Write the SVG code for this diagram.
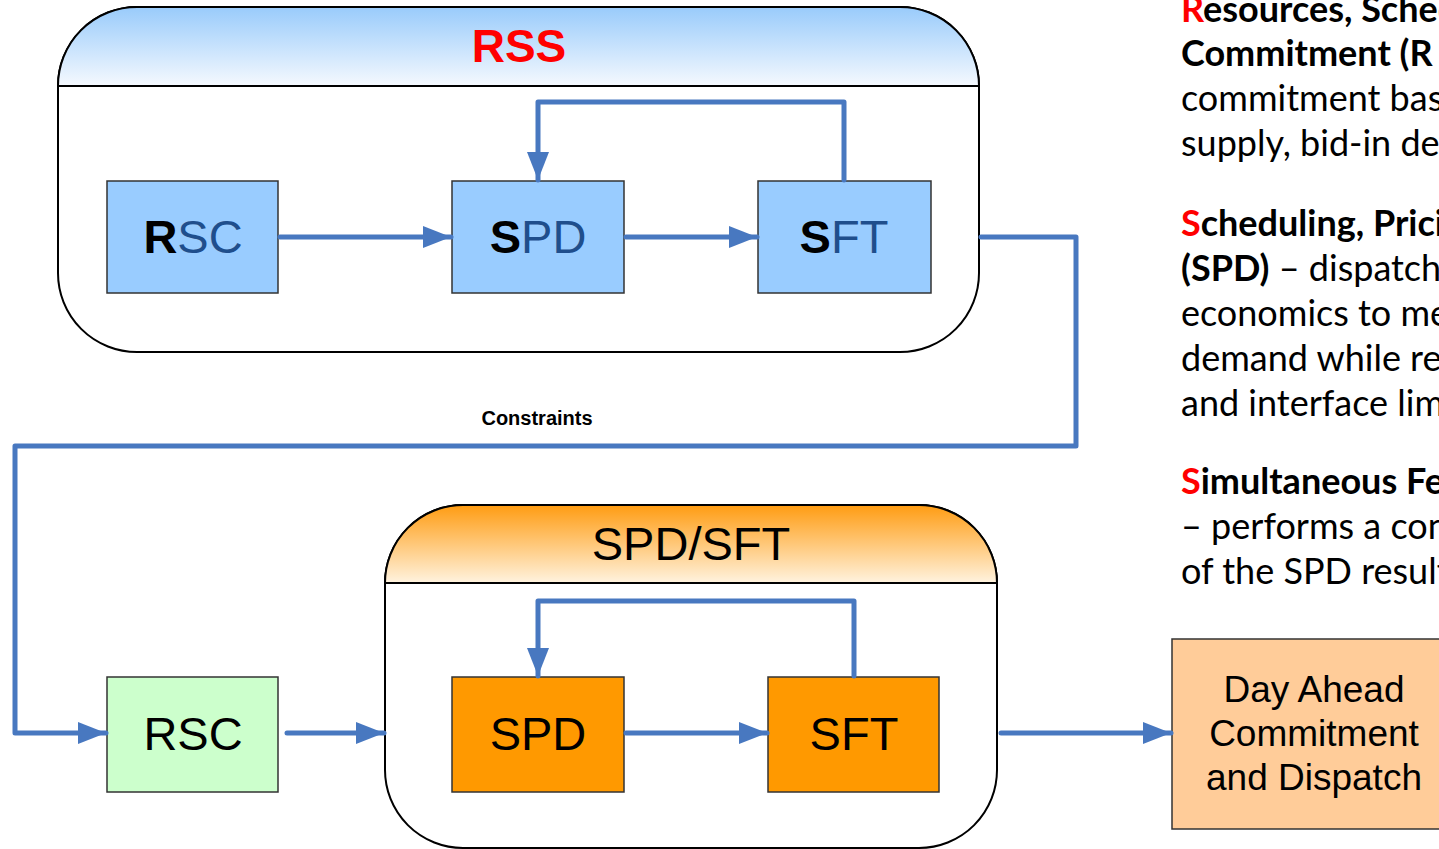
<svg xmlns="http://www.w3.org/2000/svg" width="1439" height="849" viewBox="0 0 1439 849">
<style>
.cont{fill:#fff;stroke:#000;stroke-width:2}
.sep{stroke:#000;stroke-width:2}
.node{stroke:#333;stroke-width:1.5}
.lbl{font-family:"Liberation Sans",Arial,sans-serif;text-anchor:middle}
.conn{fill:none;stroke:#4878c0;stroke-width:5;stroke-linecap:round;stroke-linejoin:round}
.desc{font-family:Lato,"Open Sans",sans-serif;font-size:36px;fill:#000}
.b{font-weight:bold}
.red{fill:#ff0000}
</style>
<defs>
<linearGradient id="gBlue" x1="0" y1="0" x2="0" y2="1">
<stop offset="0" stop-color="#99cbfb"/>
<stop offset="1" stop-color="#f5f9fe"/>
</linearGradient>
<linearGradient id="gOrange" x1="0" y1="0" x2="0" y2="1">
<stop offset="0" stop-color="#ff9c12"/>
<stop offset="1" stop-color="#fff3df"/>
</linearGradient>
<marker id="arr" markerUnits="userSpaceOnUse" markerWidth="30" markerHeight="24" refX="28" refY="11" orient="auto">
<path d="M0,0 L28,11 L0,22 z" fill="#4878c0"/>
</marker>
</defs>
<rect width="1439" height="849" fill="#fff"/>

<g id="rss">
<path class="cont" d="M137,7 H900 A79,79 0 0 1 979,86 V273 A79,79 0 0 1 900,352 H137 A79,79 0 0 1 58,273 V86 A79,79 0 0 1 137,7 Z"/>
<path d="M137,7 H900 A79,79 0 0 1 979,86 H58 A79,79 0 0 1 137,7 Z" fill="url(#gBlue)" stroke="#000" stroke-width="2"/>
<text class="lbl b" x="519" y="62" font-size="46" fill="#ff0000">RSS</text>
</g>

<g id="spdsft">
<path class="cont" d="M463,505 H919 A78,78 0 0 1 997,583 V770 A78,78 0 0 1 919,848 H463 A78,78 0 0 1 385,770 V583 A78,78 0 0 1 463,505 Z"/>
<path d="M463,505 H919 A78,78 0 0 1 997,583 H385 A78,78 0 0 1 463,505 Z" fill="url(#gOrange)" stroke="#000" stroke-width="2"/>
<text class="lbl" x="691" y="560" font-size="47" fill="#000">SPD/SFT</text>
</g>

<g id="rsc1">
<rect class="node" x="107" y="181" width="171" height="112" fill="#99ccff"/>
<text class="lbl" x="193" y="253" font-size="47"><tspan class="b" fill="#000">R</tspan><tspan fill="#1f4e8c">SC</tspan></text>
</g>
<g id="spd1">
<rect class="node" x="452" y="181" width="172" height="112" fill="#99ccff"/>
<text class="lbl" x="538" y="253" font-size="47"><tspan class="b" fill="#000">S</tspan><tspan fill="#1f4e8c">PD</tspan></text>
</g>
<g id="sft1">
<rect class="node" x="758" y="181" width="173" height="112" fill="#99ccff"/>
<text class="lbl" x="844" y="253" font-size="47"><tspan class="b" fill="#000">S</tspan><tspan fill="#1f4e8c">FT</tspan></text>
</g>

<g id="rsc2">
<rect class="node" x="107" y="677" width="171" height="115" fill="#ccffcc"/>
<text class="lbl" x="193" y="750" font-size="47" fill="#000">RSC</text>
</g>
<g id="spd2">
<rect class="node" x="452" y="677" width="172" height="115" fill="#ff9900"/>
<text class="lbl" x="538" y="750" font-size="47" fill="#000">SPD</text>
</g>
<g id="sft2">
<rect class="node" x="768" y="677" width="171" height="115" fill="#ff9900"/>
<text class="lbl" x="854" y="750" font-size="47" fill="#000">SFT</text>
</g>

<g id="dayahead">
<rect class="node" x="1172" y="639" width="280" height="190" fill="#ffcc99"/>
<text class="lbl" x="1314" y="702" font-size="37" fill="#000">Day Ahead</text>
<text class="lbl" x="1314" y="746" font-size="37" fill="#000">Commitment</text>
<text class="lbl" x="1314" y="790" font-size="37" fill="#000">and Dispatch</text>
</g>

<g id="connectors">
<path class="conn" d="M280,237 H451" marker-end="url(#arr)"/>
<path class="conn" d="M626,237 H757" marker-end="url(#arr)"/>
<path class="conn" d="M844,180 V102 H538 V180" marker-end="url(#arr)"/>
<path class="conn" d="M981,237 H1076 V446 H15 V733 H106" marker-end="url(#arr)"/>
<path class="conn" d="M287,733 H384" marker-end="url(#arr)"/>
<path class="conn" d="M626,733 H767" marker-end="url(#arr)"/>
<path class="conn" d="M854,676 V601 H538 V676" marker-end="url(#arr)"/>
<path class="conn" d="M1001,733 H1171" marker-end="url(#arr)"/>
<text class="lbl b" x="537" y="425" font-size="20" fill="#000">Constraints</text>
</g>

<g id="description">
<text class="desc b" x="1181" y="22"><tspan class="red">R</tspan>esources, Sched</text>
<text class="desc b" x="1181" y="66">Commitment  (R</text>
<text class="desc" x="1181" y="111">commitment bas</text>
<text class="desc" x="1181" y="156">supply, bid-in der</text>
<text class="desc b" x="1181" y="236"><tspan class="red">S</tspan>cheduling, Prici</text>
<text class="desc" x="1181" y="281"><tspan class="b">(SPD)</tspan> – dispatche</text>
<text class="desc" x="1181" y="326">economics to me</text>
<text class="desc" x="1181" y="371">demand while res</text>
<text class="desc" x="1181" y="416">and interface lim</text>
<text class="desc b" x="1181" y="494"><tspan class="red">S</tspan>imultaneous Fe</text>
<text class="desc" x="1181" y="539">– performs a con</text>
<text class="desc" x="1181" y="584">of the SPD results</text>
</g>
</svg>
